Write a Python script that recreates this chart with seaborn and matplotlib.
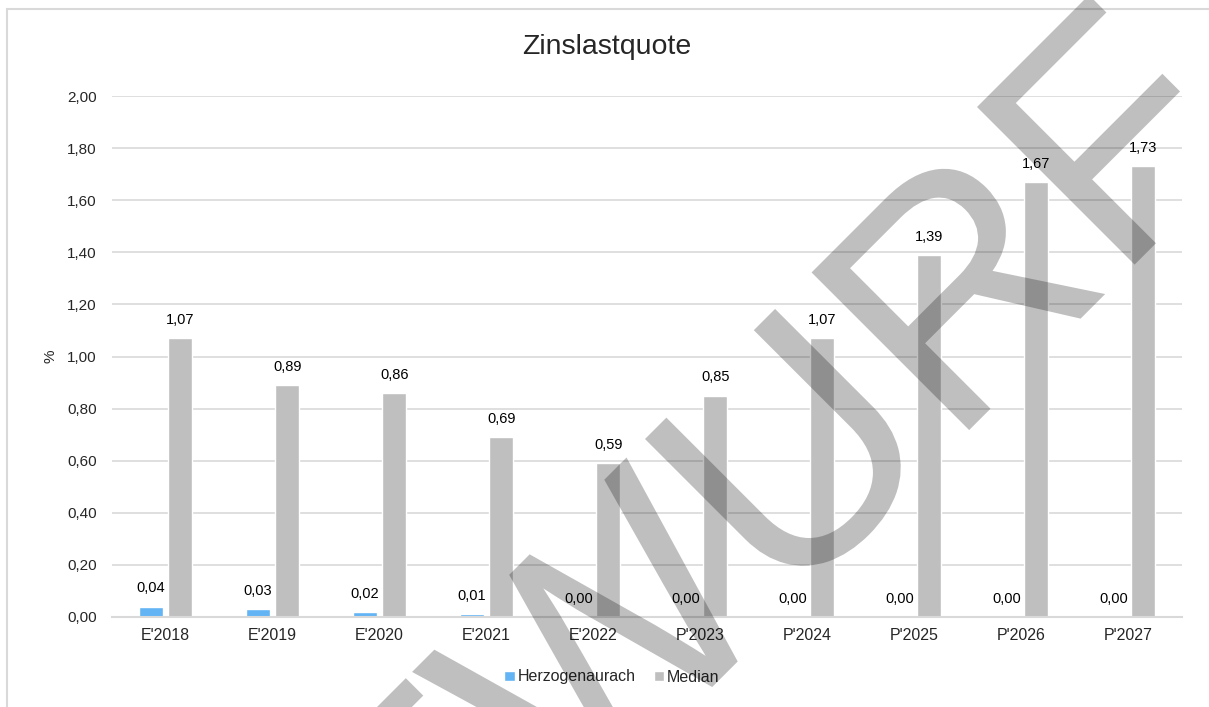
import pandas as pd
import matplotlib
matplotlib.use("Agg")
import matplotlib.pyplot as plt
import seaborn as sns
from matplotlib.patches import Rectangle, PathPatch
from matplotlib.textpath import TextPath
from matplotlib.font_manager import FontProperties
from matplotlib.transforms import Affine2D

# Daten
jahre = ["E'2018", "E'2019", "E'2020", "E'2021", "E'2022",
         "P'2023", "P'2024", "P'2025", "P'2026", "P'2027"]
herzogenaurach = [0.04, 0.03, 0.02, 0.01, 0.00, 0.00, 0.00, 0.00, 0.00, 0.00]
median = [1.07, 0.89, 0.86, 0.69, 0.59, 0.85, 1.07, 1.39, 1.67, 1.73]
reihen = ["Herzogenaurach", "Median"]
farben = ["#63B4F5", "#BFBFBF"]
y_ticks = [0.0, 0.2, 0.4, 0.6, 0.8, 1.0, 1.2, 1.4, 1.6, 1.8, 2.0]

df = pd.DataFrame({
    "Jahr": jahre * 2,
    "Wert": herzogenaurach + median,
    "Reihe": [reihen[0]] * len(jahre) + [reihen[1]] * len(jahre),
})

sns.set_style("white")
plt.rcParams["font.family"] = ["Liberation Sans", "DejaVu Sans"]

W, H = 1209, 707
fig = plt.figure(figsize=(W / 100, H / 100), dpi=100)
ax = fig.add_axes([112 / W, 1 - 617 / H, (1182 - 112) / W, (617 - 96) / H])

sns.barplot(data=df, x="Jahr", y="Wert", hue="Reihe", palette=farben,
            width=0.56, gap=0.2, ax=ax, saturation=1, errorbar=None)

def fmt(v):
    return f"{v:.2f}".replace(".", ",")

for cont, werte in zip(ax.containers, [herzogenaurach, median]):
    ax.bar_label(cont, labels=[fmt(v) for v in werte], padding=8,
                 fontsize=10.5, color="#000000")

ax.set_ylim(0, 2.0)
ax.set_yticks(y_ticks)
ax.set_yticklabels([fmt(v) for v in y_ticks], fontsize=11)
ax.tick_params(axis="x", labelsize=11.5, length=0, pad=8)
ax.tick_params(axis="y", length=0, pad=11)
ax.set_xlabel("")
ax.set_ylabel("%", fontsize=11, labelpad=7)
ax.grid(axis="y", color="#D9D9D9", linewidth=1.2)
ax.set_axisbelow(True)
for s in ["top", "right", "left"]:
    ax.spines[s].set_visible(False)
ax.spines["bottom"].set_color("#D9D9D9")
ax.spines["bottom"].set_linewidth(1.5)

handles, labels = ax.get_legend_handles_labels()
ax.legend(handles, labels, loc="center", ncol=2, frameon=False,
          bbox_to_anchor=(612 / W, 1 - 677 / H), bbox_transform=fig.transFigure,
          fontsize=11.5, handlelength=0.65, handleheight=0.65, handletextpad=0.2,
          columnspacing=1.1)

fig.text(607 / W, 1 - 47 / H, "Zinslastquote", fontsize=20.5,
         ha="center", va="center")

# Rahmen des Diagramms
fig.patches.append(Rectangle((7 / W, -0.1), 1.2, 1 - 9 / H + 0.1,
                             transform=fig.transFigure, fill=False,
                             edgecolor="#D9D9D9", linewidth=1.5))

# Wasserzeichen "ENTWURF", am F ausgerichtet
tp = TextPath((0, 0), "ENTWURF", size=324, prop=FontProperties(family="Liberation Sans"))
v = tp.vertices
xmax = v[:, 0].max()
f_teil = v[v[:, 0] > xmax - 0.52 * 324]
fx, fy = f_teil[:, 0].min(), f_teil[:, 1].max()
tr = Affine2D().translate(-fx, -fy).rotate_deg(45).translate(977, H - 107)
wz = PathPatch(tp, transform=tr, facecolor="black", edgecolor="none",
               alpha=0.25, zorder=10)
fig.add_artist(wz)

fig.savefig("out.png", dpi=100)
